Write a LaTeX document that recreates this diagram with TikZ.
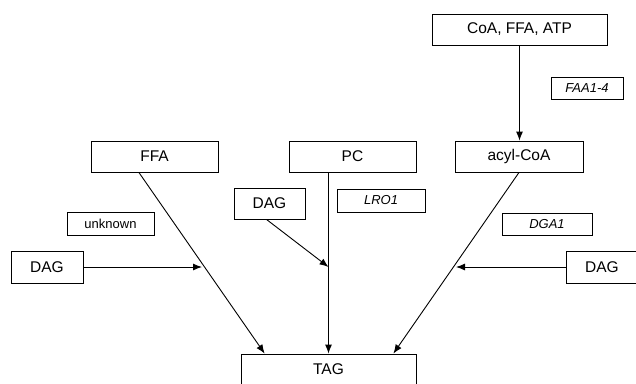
\documentclass[tikz,border=0pt]{standalone}
\usepackage{fontspec}
\setmainfont{Liberation Sans}
\usetikzlibrary{arrows.meta,calc}
\begin{document}
\begin{tikzpicture}[x=1pt,y=-1pt,
  box/.style={draw,line width=0.9pt,inner sep=0pt,font=\fontsize{15.5}{17}\selectfont},
  lbl/.style={draw,line width=0.9pt,inner sep=0pt,font=\fontsize{13}{14}\selectfont\itshape},
  plainlbl/.style={draw,line width=0.9pt,inner sep=0pt,font=\fontsize{13}{14}\selectfont},
  arr/.style={line width=0.9pt,-{Latex[length=9pt,width=7pt]}}]
\useasboundingbox (0,0) rectangle (636,383);
\clip (0,0) rectangle (636,383);
\node[box,minimum width=175pt,minimum height=31pt] (coa) at (519.5,29.5) {CoA, FFA, ATP};
\node[lbl,minimum width=72pt,minimum height=22pt] (faa) at (587,88) {FAA1-4};
\node[box,minimum width=127pt,minimum height=31pt] (ffa) at (154.5,156.5) {FFA};
\node[box,minimum width=127pt,minimum height=31pt] (pc) at (352.5,156.5) {PC};
\node[box,minimum width=128pt,minimum height=31pt] (acyl) at (519,156.5) {acyl-CoA};
\node[box,minimum width=71pt,minimum height=31pt] (dagm) at (269.5,203.5) {DAG};
\node[lbl,minimum width=88pt,minimum height=23pt] (lro) at (381,200.5) {LRO1};
\node[plainlbl,minimum width=87pt,minimum height=23pt] (unk) at (110.5,223.5) {unknown};
\node[lbl,minimum width=90pt,minimum height=22pt] (dga) at (547,224) {DGA1};
\node[box,minimum width=72pt,minimum height=32pt] (dagl) at (47,267) {DAG};
\node[box,minimum width=72pt,minimum height=32pt] (dagr) at (602,267) {DAG};
\node[box,minimum width=175pt,minimum height=31pt] (tag) at (328.5,369.5) {TAG};
\coordinate (ffaout) at ($(ffa.south west)!0.378!(ffa.south east)$);
\coordinate (tagffa) at ($(tag.north west)!0.137!(tag.north east)$);
\coordinate (tagacyl) at ($(tag.north west)!0.869!(tag.north east)$);
\coordinate (pcout) at (tag.north |- pc.south);
\coordinate (dagmend) at (tag.north |- dagl.east);
\coordinate (daglend) at (202,267);
\coordinate (dagrend) at (456,267);
\draw[arr] (coa.south) -- (coa.south |- acyl.north);
\draw[arr] (ffaout) -- (tagffa);
\draw[arr] (pcout) -- (tag.north);
\draw[arr] (acyl.south) -- (tagacyl);
\draw[arr] ($(dagm.south)+(-3,0)$) -- (dagmend);
\draw[arr] (dagl.east) -- (daglend);
\draw[arr] (dagr.west) -- (dagrend);
\end{tikzpicture}
\end{document}
